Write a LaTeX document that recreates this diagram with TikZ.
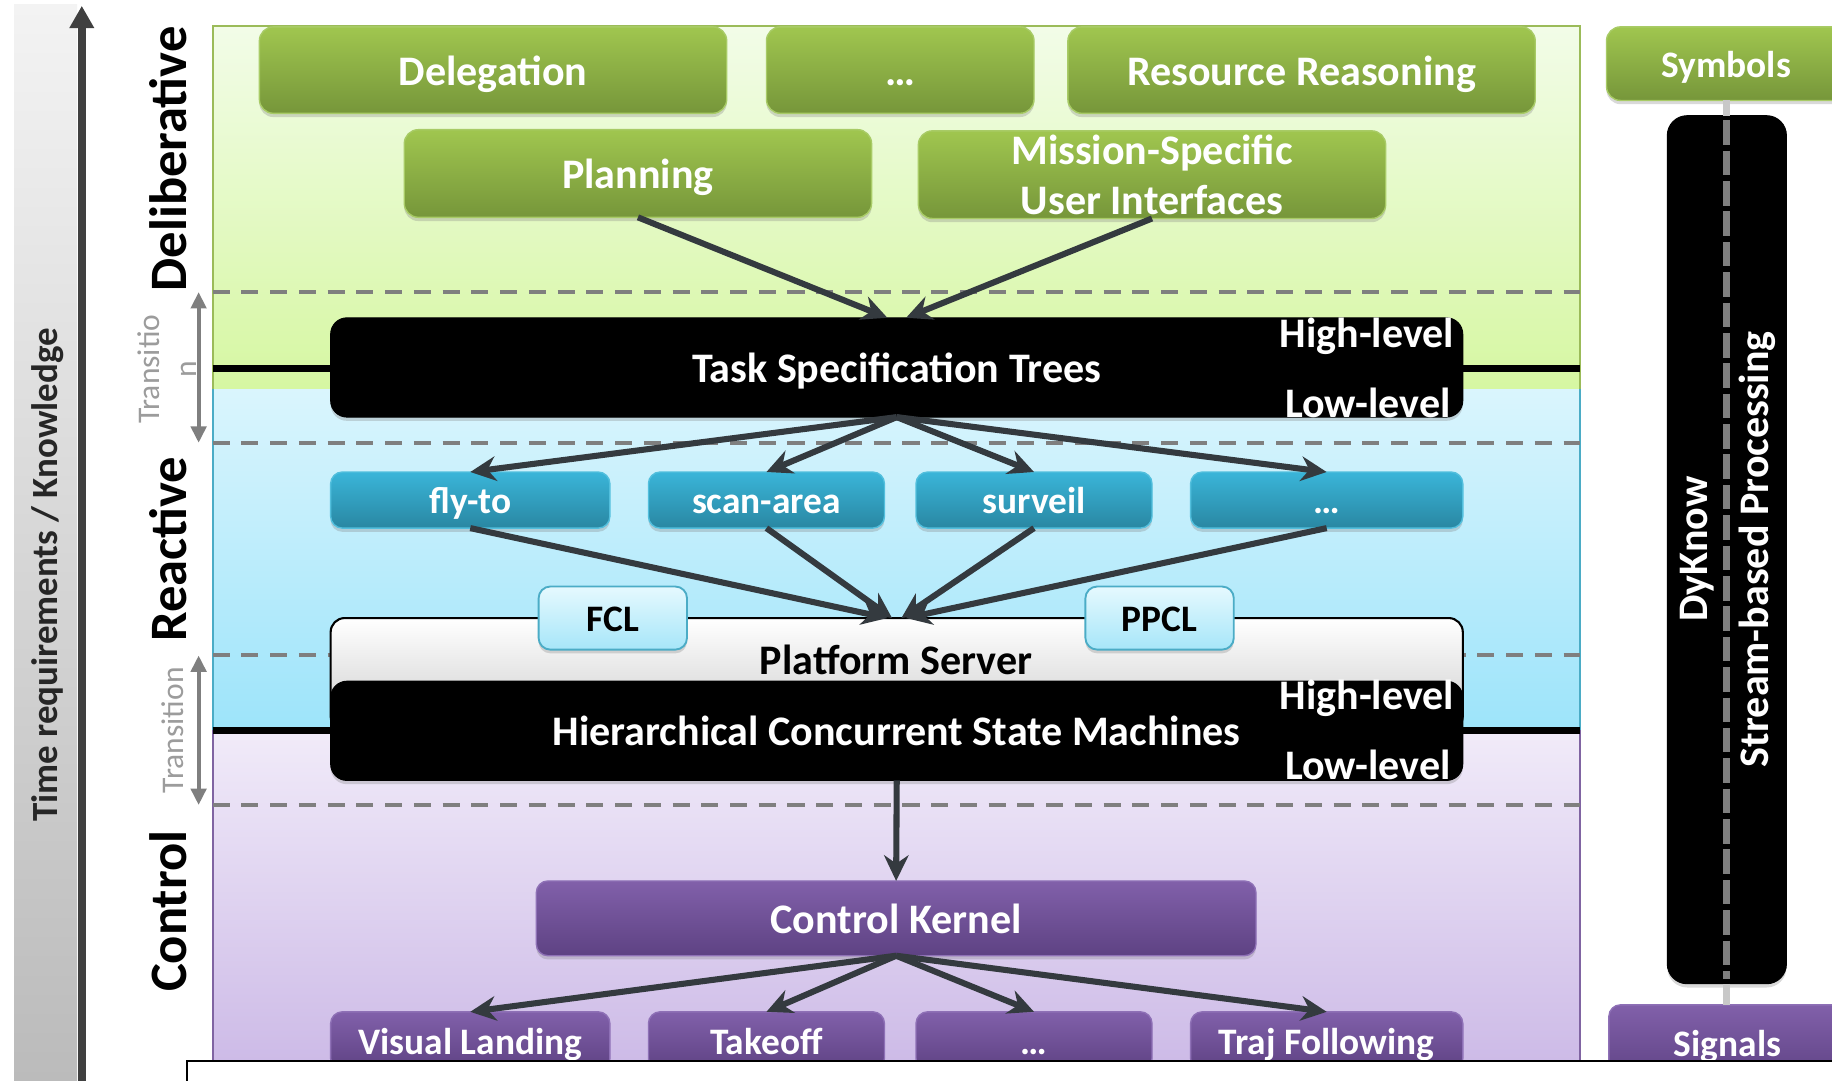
\documentclass[tikz,border=0pt]{standalone}
\usepackage{fontspec}
\setmainfont{Carlito}
\usetikzlibrary{arrows.meta,shadows,calc}

\definecolor{grnTop}{HTML}{A0C64F}
\definecolor{grnBot}{HTML}{76963A}
\definecolor{grnLine}{HTML}{A8CB66}
\definecolor{bluTop}{HTML}{3AB5D9}
\definecolor{bluBot}{HTML}{2987A2}
\definecolor{bluLine}{HTML}{52BFDD}
\definecolor{purTop}{HTML}{8160AA}
\definecolor{purBot}{HTML}{5E4283}
\definecolor{purLine}{HTML}{8E70B6}
\definecolor{lgtTop}{HTML}{E6F9FE}
\definecolor{lgtBot}{HTML}{A6E6F9}
\definecolor{lgtLine}{HTML}{4BACC6}
\definecolor{panGrnTop}{HTML}{F2FCE8}
\definecolor{panGrnBot}{HTML}{D6F7A2}
\definecolor{panGrnLine}{HTML}{9BBB59}
\definecolor{panBluTop}{HTML}{DAF5FD}
\definecolor{panBluBot}{HTML}{9DE4FA}
\definecolor{panBluLine}{HTML}{4BACC6}
\definecolor{panPurTop}{HTML}{F1EBF9}
\definecolor{panPurBot}{HTML}{CBB8E6}
\definecolor{panPurLine}{HTML}{8064A2}
\definecolor{flowCol}{HTML}{343A3F}
\definecolor{dashCol}{HTML}{7F7F7F}
\definecolor{transCol}{HTML}{9C9C9C}
\definecolor{barTop}{HTML}{F3F3F3}
\definecolor{barBot}{HTML}{BBBBBB}
\definecolor{axisCol}{HTML}{404040}
\definecolor{streamLight}{HTML}{C8C8C8}

\tikzset{
  fbig/.style={font=\fontsize{18}{21.5}\selectfont\bfseries, text height=14.2pt, text depth=1.4pt},
  fsmall/.style={font=\fontsize{16}{19}\selectfont\bfseries, text height=12.8pt, text depth=1.2pt},
  size/.style 2 args={minimum width=#1, minimum height=#2},
  softshadow/.style={drop shadow={shadow xshift=0pt,shadow yshift=-1.6pt,opacity=0.3}},
  boxbase/.style={inner sep=0pt, outer sep=0pt, softshadow},
  greenbox/.style={boxbase, rounded corners=6pt, top color=grnTop, bottom color=grnBot, draw=grnLine, line width=0.6pt, text=white, fbig},
  bluebox/.style={boxbase, rounded corners=5pt, top color=bluTop, bottom color=bluBot, draw=bluLine, line width=0.6pt, text=white, fsmall},
  purplebox/.style={boxbase, rounded corners=5pt, top color=purTop, bottom color=purBot, draw=purLine, line width=0.6pt, text=white, fbig},
  lightbox/.style={boxbase, rounded corners=5pt, top color=lgtTop, bottom color=lgtBot, draw=lgtLine, line width=0.8pt, text=black, fsmall},
  blackbox/.style={boxbase, rounded corners=7pt, fill=black, draw=black, text=white, fbig},
  serverbox/.style={boxbase, rounded corners=6pt, top color=white, bottom color=black!20, draw=black, line width=0.9pt},
  levellabel/.style={inner sep=0pt, text=white, fbig, text height=, text depth=},
  layerlabel/.style={rotate=90, anchor=base, inner sep=0pt, font=\fontsize{22.5}{27}\selectfont\bfseries},
  translabel/.style={rotate=90, align=center, inner sep=0pt, text=transCol, font=\fontsize{13.5}{16}\selectfont},
  flow/.style={draw=flowCol, line width=2.6pt, -{Stealth[length=11pt,width=10.5pt]}},
  dashline/.style={draw=dashCol, line width=1.7pt, dash pattern=on 7.3pt off 5pt},
  boundary/.style={draw=black, line width=3pt},
  transarrow/.style={draw=dashCol, line width=1.7pt, {Triangle[length=7pt,width=6.5pt]}-{Triangle[length=7pt,width=6.5pt]}},
  axisarrow/.style={draw=axisCol, line width=3.5pt, -{Triangle[length=9.5pt,width=10pt]}},
}

\begin{document}
\begin{tikzpicture}[x=0.5pt,y=-0.5pt]
\useasboundingbox (0,0) rectangle (1568,925);
\clip (0,0) rectangle (1568,925);

% time / knowledge axis
\fill[top color=barTop, bottom color=barBot] (12,4) rectangle (66,925);
\coordinate (axisbot) at (70,925);
\coordinate (axistop) at (70,5);
\draw[axisarrow] (axisbot) -- (axistop);
\node[rotate=90, inner sep=0pt, text=black!85, font=\fontsize{15.8}{18}\selectfont\bfseries] (axislabel) at (41,492) {Time requirements / Knowledge};

% layer panels
\fill[top color=panGrnTop, bottom color=panGrnBot] (182,22) rectangle (1352,333);
\draw[panGrnLine, line width=0.8pt] (182,333) -- (182,22) -- (1352,22) -- (1352,333);
\fill[top color=panBluTop, bottom color=panBluBot] (182,333) rectangle (1352,625);
\draw[panBluLine, line width=0.8pt] (182,333) -- (182,625) (1352,333) -- (1352,625);
\fill[top color=panPurTop, bottom color=panPurBot] (182,625) rectangle (1352,925);
\draw[panPurLine, line width=0.8pt] (182,625) -- (182,925) (1352,625) -- (1352,925);

% transition zones
\draw[dashline] (182,250) -- (1352,250);
\draw[dashline] (182,379) -- (1352,379);
\draw[dashline] (182,561) -- (1352,561);
\draw[dashline] (182,689) -- (1352,689);
\draw[boundary] (182,315) -- (1352,315);
\draw[boundary] (182,625) -- (1352,625);

\coordinate (tra) at (170,250);
\coordinate (trb) at (170,379);
\coordinate (trc) at (170,561);
\coordinate (trd) at (170,689);
\draw[transarrow] (tra) -- (trb);
\draw[transarrow] (trc) -- (trd);
\node[translabel] (transup) at (143,316) {Transitio\\n};
\node[translabel] (translow) at (148,625) {Transition};

% layer names
\node[layerlabel] (lbldelib) at (160,136) {Deliberative};
\node[layerlabel] (lblreact) at (160,470) {Reactive};
\node[layerlabel] (lblctrl) at (160,780) {Control};

% deliberative layer
\node[greenbox, size={200pt}{37pt}] (deleg) at (422,60) {Delegation};
\node[greenbox, size={114.5pt}{37pt}] (gdots) at (770.5,60) {…};
\node[greenbox, size={200pt}{37pt}] (resreason) at (1114,60) {Resource Reasoning};
\node[greenbox, size={200pt}{37.5pt}] (planning) at (546,148.5) {Planning};
\node[greenbox, size={200pt}{37.5pt}, align=center, text height=, text depth=] (msui) at (986,149.5) {Mission-Specific\\User Interfaces};

% task specification trees
\node[blackbox, size={484.5pt}{42.5pt}] (tst) at (767.5,314.5) {Task Specification Trees};
\node[levellabel, anchor=east] (tsthigh) at (1245,288) {High-level};
\node[levellabel, anchor=east] (tstlow) at (1242,345) {Low-level};

% reactive layer
\node[bluebox, size={119.5pt}{24pt}] (flyto) at (402.5,428) {fly-to};
\node[bluebox, size={101pt}{24pt}] (scan) at (656,428) {scan-area};
\node[bluebox, size={101pt}{24pt}] (surveil) at (885,428) {surveil};
\node[bluebox, size={116.5pt}{24pt}] (bdots) at (1135.5,428) {…};

% platform server and state machines
\node[serverbox, size={484.5pt}{48pt}] (ps) at (767.5,577) {};
\node[inner sep=0pt, text=black, fbig, text height=, text depth=] (pslabel) at (767,565) {Platform Server};
\node[lightbox, size={63.5pt}{27pt}] (fcl) at (524.5,529) {FCL};
\node[lightbox, size={63.5pt}{27pt}] (ppcl) at (992.5,529) {PPCL};
\node[blackbox, size={484.5pt}{42.5pt}] (hcsm) at (767.5,625.5) {Hierarchical Concurrent State Machines};
\node[levellabel, anchor=east] (hcsmhigh) at (1245,598) {High-level};
\node[levellabel, anchor=east] (hcsmlow) at (1242,655) {Low-level};

% control layer
\node[purplebox, size={308pt}{32pt}] (ck) at (767,786) {Control Kernel};
\node[purplebox, fsmall, size={119.5pt}{25pt}] (vland) at (402.5,891) {Visual Landing};
\node[purplebox, fsmall, size={101pt}{25pt}] (takeoff) at (656,891) {Takeoff};
\node[purplebox, fsmall, size={101pt}{25pt}] (pdots) at (885,891) {…};
\node[purplebox, fsmall, size={116.5pt}{25pt}] (traj) at (1135.5,891) {Traj Following};

% stream processing column
\node[greenbox, fsmall, size={102.5pt}{31.5pt}] (symbols) at (1477.5,54.5) {Symbols};
\node[purplebox, fsmall, size={101.5pt}{33pt}] (signals) at (1478.5,893) {Signals};
\node[boxbase, rounded corners=8.5pt, fill=black, draw=black, size={51pt}{371.5pt}] (dyknow) at (1478,470.5) {};
\draw[streamLight, line width=3pt] (dyknow.north |- symbols.south) -- (dyknow.north);
\draw[streamLight, line width=3pt, dash pattern=on 10.5pt off 2.5pt] (dyknow.south) -- (dyknow.south |- signals.north);
\draw[dashCol, line width=3pt, dash pattern=on 10.5pt off 2.5pt] ($(dyknow.north)+(0,4)$) -- ($(dyknow.south)+(0,-4)$);
\node[rotate=90, align=center, inner sep=0pt, text=white, font=\fontsize{18}{26}\selectfont\bfseries] (dyktext) at (1479,470) {DyKnow\\Stream-based Processing};

% flows
\draw[flow] (planning.south) -- ($(tst.north)+(-8,0)$);
\draw[flow] (msui.south) -- ($(tst.north)+(8,0)$);
\draw[flow] (tst.south) -- (flyto.north);
\draw[flow] (tst.south) -- (scan.north);
\draw[flow] (tst.south) -- (surveil.north);
\draw[flow] (tst.south) -- (bdots.north);
\draw[flow] (flyto.south) -- ($(ps.north)+(-8,0)$);
\draw[flow] (scan.south) -- ($(ps.north)+(-4,0)$);
\draw[flow] (surveil.south) -- ($(ps.north)+(4,0)$);
\draw[flow] (bdots.south) -- ($(ps.north)+(8,0)$);
\draw[flow] (hcsm.south) -- (ck.north);
\draw[flow] (ck.south) -- (vland.north);
\draw[flow] (ck.south) -- (takeoff.north);
\draw[flow] (ck.south) -- (pdots.north);
\draw[flow] (ck.south) -- (traj.north);

% frame overlapping the lower edge
\draw[fill=white, line width=0.8pt] (160,908) rectangle (1600,990);
\end{tikzpicture}
\end{document}
